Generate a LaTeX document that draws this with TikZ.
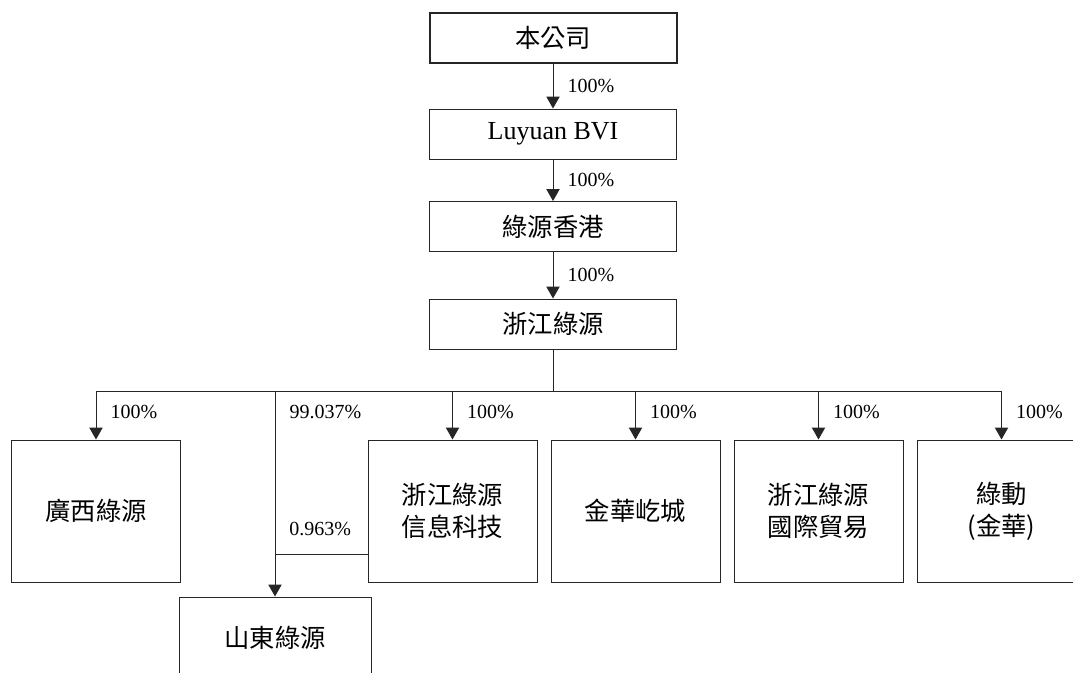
\documentclass[tikz,border=0pt]{standalone}
\usepackage{fontspec}
\setmainfont{Liberation Serif}
\newfontfamily\cjk{Noto Sans CJK TC}
\usetikzlibrary{arrows.meta,positioning}

\begin{document}
\begin{tikzpicture}[x=0.75pt,y=0.75pt]
\tikzset{
  firm/.style={draw=black!85, line width=0.75pt, inner sep=0pt, align=center, font={\cjk\fontsize{19}{24}\selectfont}},
  topfirm/.style={firm, minimum width=185.25pt, minimum height=37.5pt},
  subfirm/.style={firm, minimum width=126.75pt, minimum height=106.5pt},
  pct/.style={font={\fontsize{15}{18}\selectfont}, inner sep=0pt, anchor=west, xshift=10.5pt},
  own/.style={draw=black!85, line width=0.75pt, -{Triangle[width=10pt,length=9pt]}},
  link/.style={draw=black!85, line width=0.75pt}
}
\clip (0,0) rectangle (1073,-672);

%Holding chain
\node[topfirm, line width=1.5pt] (parent) at (553,-37.5) {本公司};
\node[topfirm, font={\fontsize{19.5}{24}\selectfont}] (bvi) at (553,-134) {Luyuan BVI};
\node[topfirm] (hk) at (553,-226.5) {綠源香港};
\node[topfirm] (zj) at (553,-324) {浙江綠源};

\draw[own] (parent) -- node[pct] {100\%} (bvi);
\draw[own] (bvi) -- node[pct] {100\%} (hk);
\draw[own] (hk) -- node[pct] {100\%} (zj);

%Subsidiaries
\coordinate (bus) at (553,-391);
\node[subfirm] (gx) at (96,-511) {廣西綠源};
\node[subfirm] (xx) at (452.5,-511) {浙江綠源\\信息科技};
\node[subfirm] (jh) at (635.5,-511) {金華屹城};
\node[subfirm] (gj) at (818.5,-511) {浙江綠源\\國際貿易};
\node[subfirm] (ld) at (1001.5,-511) {綠動\\(金華)};
\node[firm, minimum width=144pt, minimum height=61.5pt] (sd) at (275,-638) {山東綠源};

\draw[link] (zj) -- (bus);
\draw[link] (gx |- bus) -- (ld |- bus);
\foreach \sub in {gx,xx,jh,gj,ld}
\draw[own] (\sub |- bus) -- node[pct,pos=0.43] {100\%} (\sub);

% Shandong, held jointly
\draw[own] (sd |- bus) -- node[pct,pos=0.1] {99.037\%} (sd);
\path (xx.west) ++(0,-43) coordinate (xxout);
\draw[link] (xxout) -- (sd |- xxout);
\path (sd |- xxout) ++(0,25) node[pct] (minor) {0.963\%};

\end{tikzpicture}
\end{document}
